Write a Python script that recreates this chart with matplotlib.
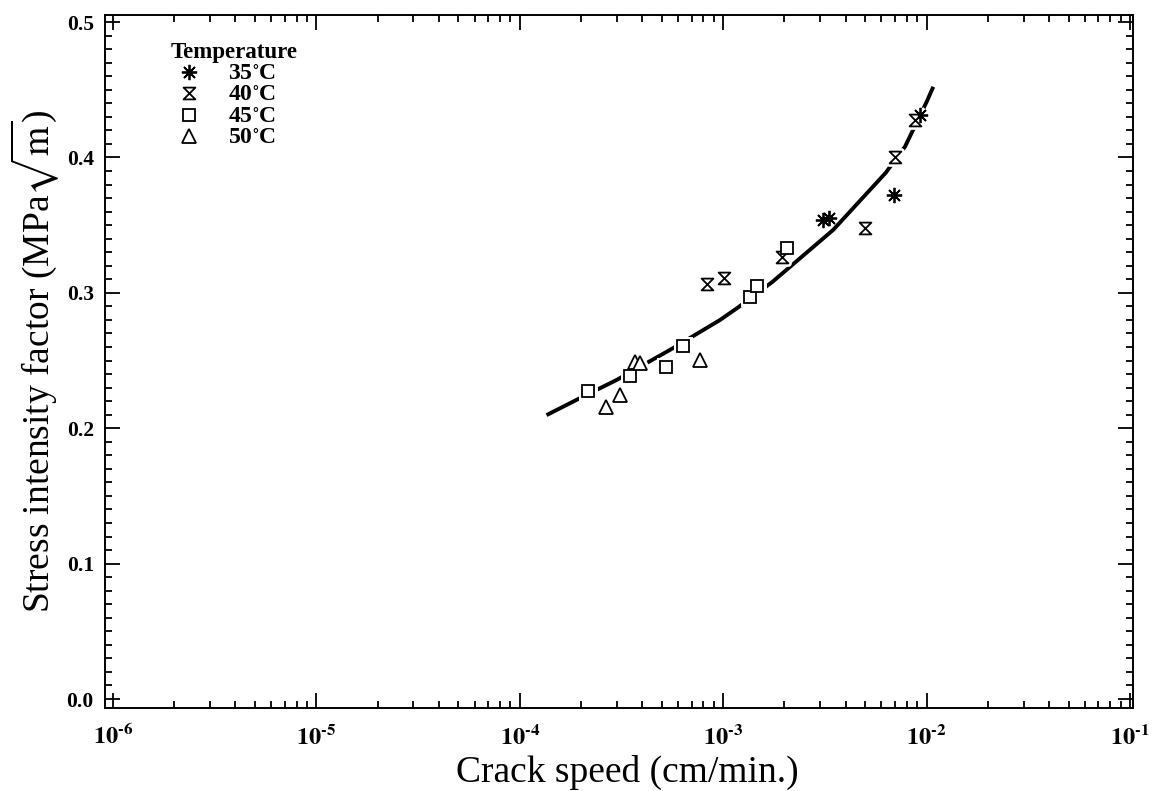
import numpy as np
import matplotlib
matplotlib.use('Agg')
import matplotlib.pyplot as plt
from matplotlib.path import Path
from matplotlib.lines import Line2D
from matplotlib.ticker import FixedLocator, MultipleLocator, FuncFormatter, NullFormatter

plt.rcParams['font.family'] = 'Liberation Serif'
plt.rcParams['mathtext.fontset'] = 'stix'

# crack speed (cm/min) and stress intensity factor (MPa sqrt(m)) per temperature
speed_35 = [3.09e-3, 3.31e-3, 6.92e-3, 9.27e-3]
k_35 = [0.354, 0.355, 0.372, 0.431]

speed_40 = [8.3e-4, 1.01e-3, 1.94e-3, 5.0e-3, 7.0e-3, 8.77e-3]
k_40 = [0.3065, 0.3107, 0.3262, 0.3476, 0.4005, 0.4276]

speed_45 = [2.17e-4, 3.48e-4, 5.24e-4, 6.37e-4, 1.355e-3, 1.46e-3, 2.05e-3]
k_45 = [0.2277, 0.2388, 0.2454, 0.2609, 0.2971, 0.3053, 0.3333]

speed_50 = [2.67e-4, 3.11e-4, 3.68e-4, 3.90e-4, 7.69e-4]
k_50 = [0.2154, 0.2245, 0.2491, 0.2479, 0.2504]

# master curve through all temperatures
fit_speed = [1.355e-4, 1.94e-4, 2.99e-4, 5.47e-4, 9.64e-4, 1.186e-3, 1.75e-3,
             3.47e-3, 6.30e-3, 7.83e-3, 1.002e-2, 1.079e-2]
fit_k = [0.2097, 0.2216, 0.2356, 0.2578, 0.2799, 0.2893, 0.3082,
         0.3464, 0.3887, 0.4079, 0.4412, 0.4522]

labels = ['35$^{\\circ}$C', '40$^{\\circ}$C', '45$^{\\circ}$C', '50$^{\\circ}$C']

# hourglass marker
hourglass = Path([(-1, 1), (1, 1), (-1, -1), (1, -1), (-1, 1)],
                 [Path.MOVETO, Path.LINETO, Path.LINETO, Path.LINETO, Path.CLOSEPOLY])

series = [
    (speed_35, k_35, (8, 2, 0), 11),
    (speed_40, k_40, hourglass, 8.5),
    (speed_45, k_45, 's', 8.5),
    (speed_50, k_50, '^', 9.5),
]

fig = plt.figure(figsize=(11.61, 7.91), dpi=100)
ax = fig.add_axes([0.0904, 0.1049, 0.8855, 0.8761])

ax.plot(fit_speed, fit_k, color='black', lw=2.8, zorder=2, solid_capstyle='butt')

handles = []
for (xs, ys, m, ms), lab in zip(series, labels):
    # white halo so the curve is broken around each symbol
    ax.plot(xs, ys, ls='none', marker=m, ms=ms, mfc='white', mec='white',
            mew=5, zorder=3)
    ax.plot(xs, ys, ls='none', marker=m, ms=ms, mfc='white', mec='black',
            mew=1.3, zorder=4)
    handles.append(Line2D([], [], ls='none', marker=m, ms=ms, mfc='white',
                          mec='black', mew=1.3, label=lab))

ax.plot(speed_35, k_35, ls='none', marker='o', ms=3, color='black', zorder=5)

ax.set_xscale('log')
ax.set_xlim(10 ** -6.039, 10 ** -0.985)
ax.set_ylim(-0.00665, 0.5052)

ax.xaxis.set_major_locator(FixedLocator([1e-6, 1e-5, 1e-4, 1e-3, 1e-2, 1e-1]))
minor_x = [m * 10.0 ** e for e in range(-6, -1) for m in range(2, 10)]
ax.xaxis.set_minor_locator(FixedLocator(minor_x))
ax.xaxis.set_minor_formatter(NullFormatter())
ax.xaxis.set_major_formatter(FuncFormatter(
    lambda v, p: '$\\mathbf{10^{\u2010%d}}$' % abs(int(round(np.log10(v))))))

ax.yaxis.set_major_locator(MultipleLocator(0.1))
ax.yaxis.set_minor_locator(MultipleLocator(0.01))
ax.yaxis.set_major_formatter(FuncFormatter(lambda v, p: f'{v:.1f}'))

ax.tick_params(which='both', direction='in', top=True, right=True, width=1.3)
ax.tick_params(which='major', length=11, labelsize=15.5, pad=8)
ax.tick_params(which='minor', length=5)
ax.tick_params(axis='x', which='major', labelsize=17.5, pad=12)
for lab in ax.get_yticklabels():
    lab.set_fontweight('bold')
for s in ax.spines.values():
    s.set_linewidth(1.4)

ax.set_xlabel('Crack speed (cm/min.)', fontsize=27, labelpad=2)
ax.xaxis.set_label_coords(0.508, -0.068)
ax.set_ylabel(r'Stress intensity factor (MPa$\sqrt{\mathrm{m}}$)', fontsize=27, labelpad=4)

leg = ax.legend(handles=handles, loc='upper left', bbox_to_anchor=(0.055, 0.974),
                frameon=False, title='Temperature', alignment='left',
                prop={'size': 17, 'weight': 'bold'}, handletextpad=0.9,
                labelspacing=0.0, borderaxespad=0, handlelength=1.5)
leg.get_title().set_fontsize(16.5)
leg.get_title().set_fontweight('bold')

fig.savefig('out.png', dpi=100)
